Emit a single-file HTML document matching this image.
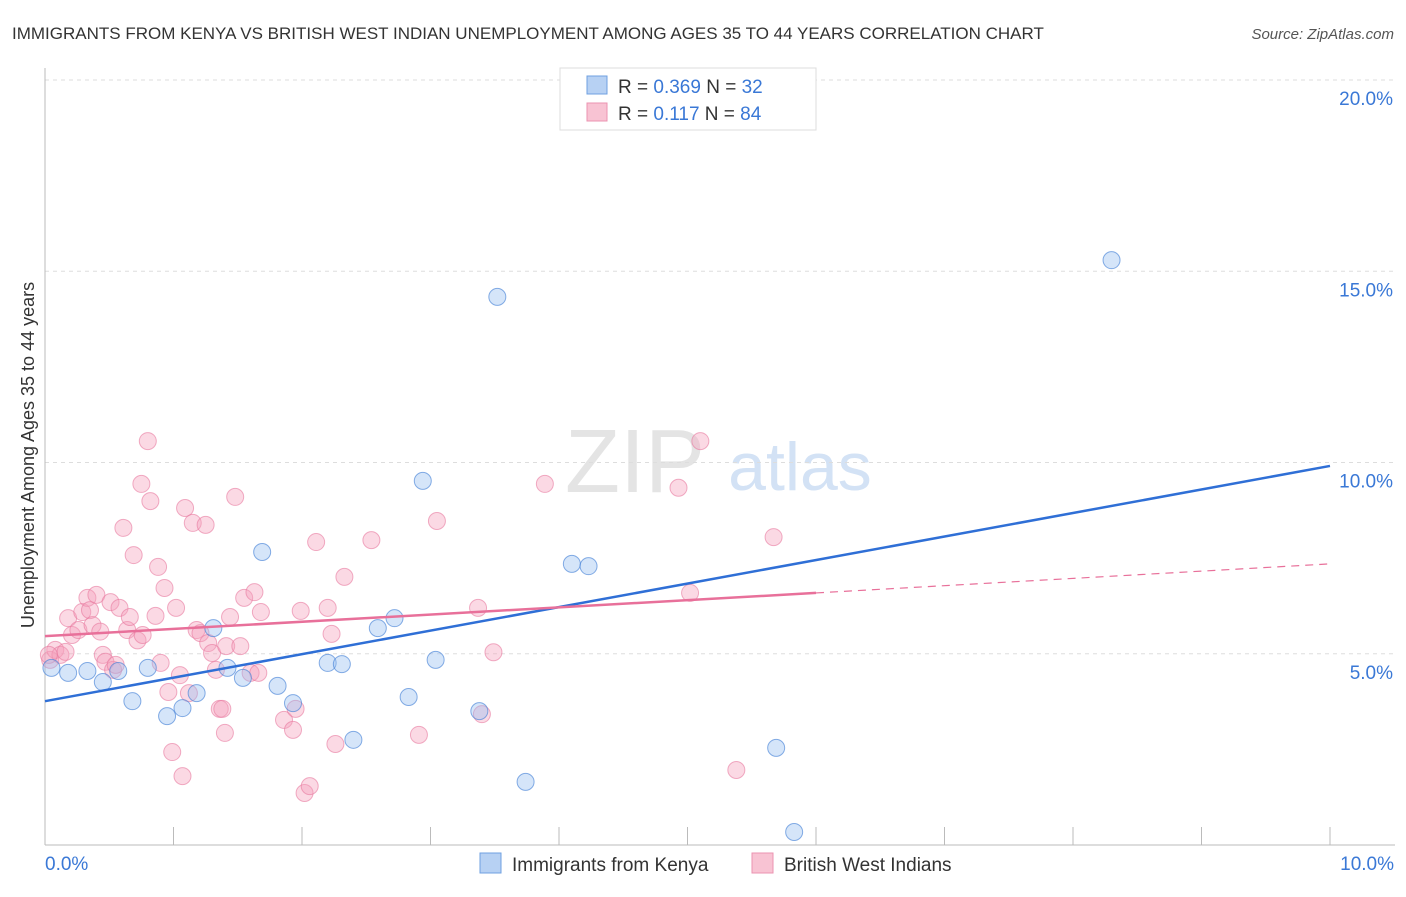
<!DOCTYPE html>
<html><head><meta charset="utf-8"><style>
body{margin:0;background:#fff;font-family:"Liberation Sans",sans-serif;}
svg text{font-family:"Liberation Sans",sans-serif;}
</style></head><body>
<svg id="c" width="1406" height="892" xmlns="http://www.w3.org/2000/svg">
<text x="12" y="39" font-size="17" fill="#333">IMMIGRANTS FROM KENYA VS BRITISH WEST INDIAN UNEMPLOYMENT AMONG AGES 35 TO 44 YEARS CORRELATION CHART</text>
<text x="1394" y="39" font-size="15" fill="#555" font-style="italic" text-anchor="end">Source: ZipAtlas.com</text>
<text x="635" y="492" font-size="90" fill="#e4e4e4" font-family="Liberation Serif" text-anchor="middle">ZIP</text>
<text x="800" y="490" font-size="68" fill="#d3e2f5" text-anchor="middle">atlas</text>
<text transform="translate(34,455) rotate(-90)" font-size="18" fill="#333" text-anchor="middle">Unemployment Among Ages 35 to 44 years</text>
<g id="grid"></g><g id="pts"></g><g id="lines"></g>
<g>
<rect x="560" y="68" width="256" height="62" fill="#fff" stroke="#ddd"/>
<rect x="587" y="76" width="20" height="18" fill="#b7d1f3" stroke="#6fa0e0"/>
<text x="618" y="93" font-size="19" fill="#333">R = <tspan fill="#3a78d6">0.369</tspan>   N = <tspan fill="#3a78d6">32</tspan></text>
<rect x="587" y="103" width="20" height="18" fill="#f8c3d3" stroke="#eb93b0"/>
<text x="618" y="120" font-size="19" fill="#333">R =  <tspan fill="#3a78d6">0.117</tspan>   N = <tspan fill="#3a78d6">84</tspan></text>
</g>
<g>
<rect x="480" y="853" width="21" height="20" fill="#b7d1f3" stroke="#6fa0e0"/>
<text x="512" y="871" font-size="19" fill="#333">Immigrants from Kenya</text>
<rect x="752" y="853" width="21" height="20" fill="#f8c3d3" stroke="#eb93b0"/>
<text x="784" y="871" font-size="19" fill="#333">British West Indians</text>
</g>
</svg>
<script>
const yTicks=[5,10,15,20];
const xTickLabels=["0.0%","10.0%"];
const blueX=[0.05,0.18,0.33,0.45,0.57,0.68,0.80,0.95,1.07,1.18,1.31,1.42,1.54,1.69,1.81,1.93,2.20,2.31,2.40,2.59,2.72,2.83,2.94,3.04,3.38,3.52,3.74,4.10,4.23,5.69,5.83,8.30];
const blueY=[4.63,4.50,4.55,4.26,4.55,3.76,4.63,3.37,3.58,3.97,5.67,4.63,4.37,7.66,4.16,3.71,4.76,4.73,2.75,5.67,5.93,3.87,9.52,4.84,3.50,14.33,1.65,7.35,7.29,2.54,0.34,15.29];
const pinkX=[0.04,0.08,0.12,0.16,0.18,0.21,0.26,0.29,0.33,0.35,0.37,0.40,0.43,0.45,0.47,0.51,0.53,0.55,0.58,0.61,0.64,0.66,0.69,0.72,0.76,0.80,0.75,0.82,0.86,0.88,0.90,0.93,0.96,0.99,1.02,1.05,1.07,1.09,1.12,1.15,1.18,1.21,1.25,1.27,1.30,1.33,1.36,1.38,1.40,1.41,1.44,1.48,1.52,1.55,1.60,1.63,1.66,1.68,1.86,1.93,1.95,1.99,2.02,2.06,2.11,2.20,2.23,2.26,2.33,2.54,2.91,3.05,3.37,3.40,3.49,3.89,4.93,5.02,5.10,5.38,5.67,0.03];
const pinkY=[4.84,5.10,4.97,5.05,5.93,5.49,5.62,6.09,6.46,6.14,5.75,6.54,5.58,4.97,4.79,6.35,4.58,4.71,6.20,8.29,5.62,5.96,7.58,5.35,5.49,10.56,9.44,8.99,5.99,7.27,4.76,6.72,4.00,2.43,6.20,4.44,1.80,8.81,3.97,8.42,5.62,5.54,8.37,5.28,5.02,4.58,3.56,3.56,2.93,5.20,5.96,9.10,5.20,6.46,4.50,6.61,4.50,6.09,3.27,3.01,3.56,6.12,1.36,1.54,7.92,6.20,5.52,2.64,7.01,7.97,2.88,8.47,6.20,3.42,5.04,9.44,9.34,6.59,10.56,1.96,8.05,4.97];
const blueLine=[3.76,9.91];
const pinkLine=[5.46,6.59,7.35];
const X0=45,X1=1330,Y0=845,PY=38.25;
const sx=v=>X0+(X1-X0)*v/10, sy=v=>Y0-v*PY;
const NS="http://www.w3.org/2000/svg";
function mk(t,a,p){const e=document.createElementNS(NS,t);for(const k in a)e.setAttribute(k,a[k]);p.appendChild(e);return e;}
const g=document.getElementById('grid');
for(const t of yTicks){
 const l=mk('line',{x1:X0,x2:1395,y1:sy(t),y2:sy(t),stroke:'#ddd','stroke-dasharray':'4,4'},g);
 
 
 const tx=mk('text',{x:1393,y:sy(t)+25,'font-size':19,fill:'#3a78d6','text-anchor':'end'},g);
 tx.textContent=t.toFixed(1)+'%';
 
 
}
const ax=mk('line',{x1:X0,x2:1395,y1:Y0,y2:Y0,stroke:'#bbb'},g);


const ay=mk('line',{x1:X0,x2:X0,y1:68,y2:Y0,stroke:'#bbb'},g);


for(let i=1;i<=10;i++){const t=mk('line',{x1:sx(i),x2:sx(i),y1:Y0-18,y2:Y0,stroke:'#bbb'},g);
 
 }
const xl0=mk('text',{x:45,y:870,'font-size':19,fill:'#3a78d6'},g);xl0.textContent=xTickLabels[0];


const xl1=mk('text',{x:1394,y:870,'font-size':19,fill:'#3a78d6','text-anchor':'end'},g);xl1.textContent=xTickLabels[1];


const p=document.getElementById('pts');
pinkX.forEach((x,i)=>{const c=mk('circle',{cx:sx(x),cy:sy(pinkY[i]),r:8.5,fill:'rgba(244,160,188,0.4)',stroke:'rgba(232,120,158,0.6)'},p);
 
 });
blueX.forEach((x,i)=>{const c=mk('circle',{cx:sx(x),cy:sy(blueY[i]),r:8.5,fill:'rgba(150,190,240,0.4)',stroke:'rgba(70,130,215,0.65)'},p);
 
 });
const L=document.getElementById('lines');
const bl=mk('line',{x1:sx(0),y1:sy(blueLine[0]),x2:sx(10),y2:sy(blueLine[1]),stroke:'#2f6fd6','stroke-width':2.5},L);


const pl=mk('line',{x1:sx(0),y1:sy(pinkLine[0]),x2:sx(6),y2:sy(pinkLine[1]),stroke:'#e8709a','stroke-width':2.5},L);


const pd=mk('line',{x1:sx(6),y1:sy(pinkLine[1]),x2:sx(10),y2:sy(pinkLine[2]),stroke:'#e8709a','stroke-width':1.2,'stroke-dasharray':'8,6'},L);


</script>
</body></html>
